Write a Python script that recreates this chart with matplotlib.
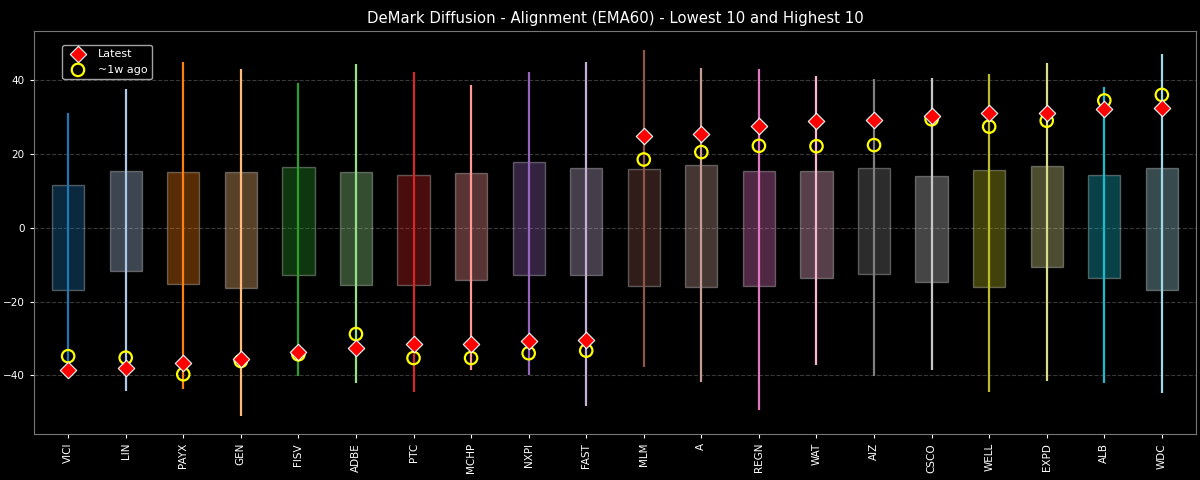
import numpy as np
import matplotlib.pyplot as plt

tickers = ["VICI", "LIN", "PAYX", "GEN", "FISV", "ADBE", "PTC", "MCHP", "NXPI", "FAST",
           "MLM", "A", "REGN", "WAT", "AIZ", "CSCO", "WELL", "EXPD", "ALB", "WDC"]

# range (min / max) of the diffusion over the lookback
lo = [-39.5, -44.3, -43.8, -50.9, -40.2, -42.0, -44.5, -38.6, -39.9, -48.4,
      -37.7, -41.9, -49.5, -37.3, -40.2, -38.6, -44.5, -41.5, -42.0, -44.9]
hi = [31.2, 37.7, 44.9, 42.9, 39.3, 44.3, 42.3, 38.6, 42.3, 45.0,
      48.3, 43.4, 43.1, 41.2, 40.2, 40.7, 41.7, 44.7, 38.2, 47.2]

# interquartile box
q1 = [-16.8, -11.6, -15.3, -16.3, -12.7, -15.5, -15.5, -14.1, -12.8, -12.7,
      -15.9, -16.1, -15.8, -13.7, -12.5, -14.6, -16.0, -10.7, -13.6, -16.9]
q3 = [11.6, 15.5, 15.2, 15.2, 16.5, 15.0, 14.3, 14.8, 17.8, 16.3,
      15.9, 17.1, 15.4, 15.3, 16.1, 14.0, 15.7, 16.7, 14.3, 16.2]

latest = [-38.6, -37.9, -36.7, -35.5, -33.6, -32.7, -31.6, -31.5, -30.6, -30.5,
          24.8, 25.4, 27.7, 28.8, 29.3, 30.3, 31.0, 31.2, 32.3, 32.4]
week_ago = [-34.8, -35.2, -39.7, -36.1, -34.3, -28.8, -35.3, -35.3, -34.0, -33.3,
            18.5, 20.5, 22.2, 22.1, 22.4, 29.4, 27.4, 29.0, 34.5, 36.0]

plt.style.use("dark_background")
plt.rcParams["font.size"] = 7.5
fig, ax = plt.subplots(figsize=(12, 4.8), dpi=100)
fig.subplots_adjust(left=0.028, right=0.997, top=0.935, bottom=0.096)

colors = plt.cm.tab20(np.arange(len(tickers)) % 20)
x = np.arange(len(tickers))

for i in range(len(tickers)):
    c = colors[i]
    ax.bar(x[i], q3[i] - q1[i], bottom=q1[i], width=0.56,
           color=(c[0], c[1], c[2], 0.35), edgecolor=(1, 1, 1, 0.3), linewidth=1, zorder=2)
    ax.vlines(x[i], lo[i], hi[i], color=c, linewidth=1.6, zorder=3)

ax.scatter(x, latest, marker="D", s=70, color="red", edgecolor="white", linewidth=0.8,
           zorder=5, label="Latest")
ax.scatter(x, week_ago, marker="o", s=80, facecolor="none", edgecolor="yellow", linewidth=1.6,
           zorder=4, label="~1w ago")

ax.set_xticks(x)
ax.set_xticklabels(tickers, rotation=90)
ax.set_xlim(-0.6, 19.6)
ax.tick_params(length=3)
ax.grid(axis="y", linestyle="--", color="gray", alpha=0.45)
ax.set_axisbelow(True)
for s in ax.spines.values():
    s.set_color("#777777")
ax.set_title("DeMark Diffusion - Alignment (EMA60) - Lowest 10 and Highest 10", fontsize=10.7)
ax.legend(loc="upper left", bbox_to_anchor=(0.02, 0.98), fontsize=8)

plt.savefig("out.png")
